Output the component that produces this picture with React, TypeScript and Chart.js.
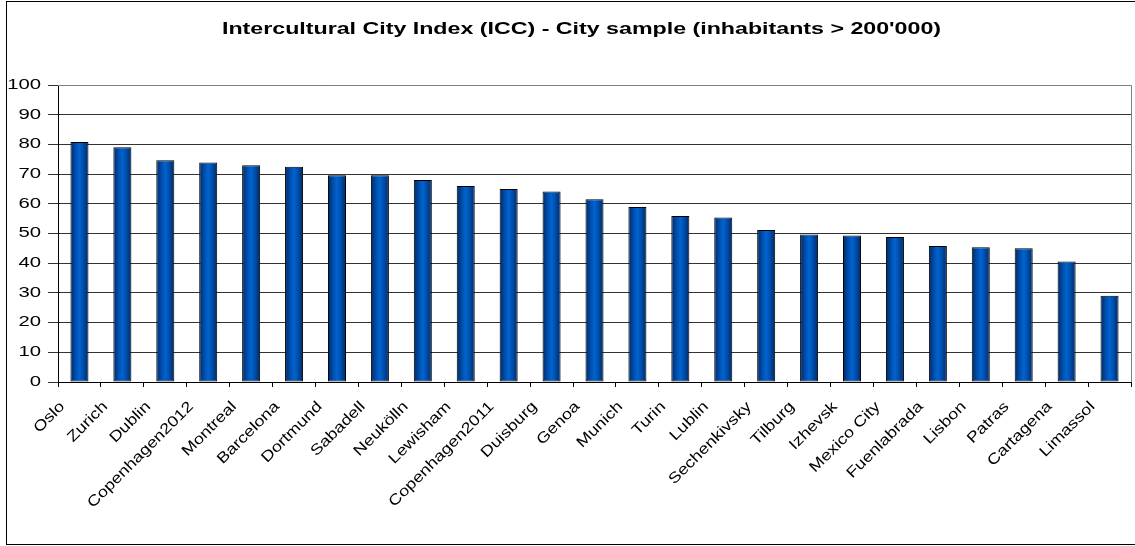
import React, { useEffect, useRef } from "react";
import { Chart, registerables } from "chart.js";

Chart.register(...registerables);

const CITIES = [
  "Oslo", "Zurich", "Dublin", "Copenhagen2012", "Montreal", "Barcelona", "Dortmund",
  "Sabadell", "Neukölln", "Lewisham", "Copenhagen2011", "Duisburg", "Genoa", "Munich",
  "Turin", "Lublin", "Sechenkivsky", "Tilburg", "Izhevsk", "Mexico City", "Fuenlabrada",
  "Lisbon", "Patras", "Cartagena", "Limassol",
];
const ICC_VALUES = [
  80.8, 79.0, 74.7, 73.9, 73.0, 72.5, 69.6, 69.6, 68.0, 66.0, 65.0, 64.1, 61.5, 58.9,
  55.9, 55.4, 51.2, 49.7, 49.3, 48.8, 45.8, 45.4, 45.0, 40.6, 29.0,
];
const Y_MIN = 0;
const Y_MAX = 100;
const Y_STEP = 10;
const TITLE = "Intercultural City Index (ICC) - City sample (inhabitants > 200'000)";

const FONT_FAMILY = "'Liberation Sans', Arial, sans-serif";
const STRETCH_FLAT = 1.45;
const STRETCH_ROTATED = 1.2;
const BAR_FRACTION = 0.42;

function stretchText(ctx: any) {
  if (ctx.__stretched) return;
  ctx.__stretched = true;
  const fill = ctx.fillText.bind(ctx);
  const measure = ctx.measureText.bind(ctx);
  const factor = () => {
    const t = ctx.getTransform();
    return Math.abs(t.b) > 1e-6 ? STRETCH_ROTATED : STRETCH_FLAT;
  };
  ctx.fillText = (text: string, x: number, y: number, maxWidth?: number) => {
    const k = factor();
    ctx.save();
    ctx.translate(x, y);
    ctx.scale(k, 1);
    if (maxWidth === undefined) fill(text, 0, 0);
    else fill(text, 0, 0, maxWidth / k);
    ctx.restore();
  };
  ctx.measureText = (text: string) => {
    const m = measure(text);
    const k = factor();
    return {
      width: m.width * k,
      actualBoundingBoxLeft: m.actualBoundingBoxLeft * k,
      actualBoundingBoxRight: m.actualBoundingBoxRight * k,
      actualBoundingBoxAscent: m.actualBoundingBoxAscent,
      actualBoundingBoxDescent: m.actualBoundingBoxDescent,
      fontBoundingBoxAscent: m.fontBoundingBoxAscent,
      fontBoundingBoxDescent: m.fontBoundingBoxDescent,
    };
  };
}

const framePlugin = {
  id: "frame",
  afterLayout(chart: any) {
    if (chart.titleBlock) {
      chart.titleBlock.left = 32;
    }
  },
  beforeDraw(chart: any) {
    const { ctx } = chart;
    ctx.save();
    ctx.fillStyle = "#ffffff";
    ctx.fillRect(0, 0, chart.width, chart.height);
    ctx.strokeStyle = "#000000";
    ctx.lineWidth = 1;
    ctx.strokeRect(6.5, 1.5, chart.width + 10, 543);
    ctx.restore();
  },
  afterDraw(chart: any) {
    const { ctx, chartArea } = chart;
    ctx.save();
    ctx.strokeStyle = "#808080";
    ctx.lineWidth = 1;
    ctx.beginPath();
    ctx.moveTo(chartArea.left, chartArea.top + 0.5);
    ctx.lineTo(chartArea.right + 0.5, chartArea.top + 0.5);
    ctx.lineTo(chartArea.right + 0.5, chartArea.bottom);
    ctx.stroke();
    ctx.restore();
  },
};

export default function App() {
  const canvasRef = useRef<HTMLCanvasElement | null>(null);

  useEffect(() => {
    document.body.style.margin = "0";
    const canvas = canvasRef.current!;
    const ctx = canvas.getContext("2d");
    stretchText(ctx);

    const chart = new Chart(canvas, {
      type: "bar",
      data: {
        labels: CITIES,
        datasets: [
          {
            data: ICC_VALUES,
            backgroundColor: (c: any) => {
              const ch = c.chart;
              const xs = ch.scales?.x;
              if (!ch.chartArea || !xs) return "#0055b5";
              const cx = xs.getPixelForValue(c.dataIndex);
              const half = ((xs.width / CITIES.length) * BAR_FRACTION) / 2;
              const g = ch.ctx.createLinearGradient(cx - half, 0, cx + half, 0);
              g.addColorStop(0, "#002a62");
              g.addColorStop(0.3, "#004fae");
              g.addColorStop(0.5, "#0064cf");
              g.addColorStop(0.7, "#004fae");
              g.addColorStop(1, "#002a62");
              return g;
            },
            borderColor: "#000000",
            borderWidth: 1,
            borderSkipped: false,
            barPercentage: BAR_FRACTION,
            categoryPercentage: 1,
          },
        ],
      },
      options: {
        animation: false,
        responsive: false,
        devicePixelRatio: 1,
        layout: { padding: { left: 0, right: 4, top: 0, bottom: 0 } },
        plugins: {
          legend: { display: false },
          tooltip: { enabled: false },
          title: {
            display: true,
            text: TITLE,
            color: "#000000",
            font: { family: FONT_FAMILY, size: 16, weight: "bold" },
            padding: { top: 20, bottom: 45.8 },
          },
        },
        scales: {
          x: {
            grid: {
              display: true,
              drawOnChartArea: false,
              drawTicks: true,
              tickLength: 5,
              color: "#000000",
            },
            border: { display: true, color: "#000000", width: 1 },
            ticks: {
              autoSkip: false,
              minRotation: 45,
              maxRotation: 45,
              labelOffset: -17,
              padding: 11,
              color: "#000000",
              font: { family: FONT_FAMILY, size: 15 },
            },
            afterFit: (scale: any) => {
              scale.height = 164;
              scale.paddingLeft = 0;
              scale.paddingRight = 0;
            },
          },
          y: {
            min: Y_MIN,
            max: Y_MAX,
            grid: {
              color: "#333333",
              lineWidth: 1,
              drawTicks: true,
              tickLength: 10,
            },
            border: { display: true, color: "#000000", width: 1 },
            ticks: {
              stepSize: Y_STEP,
              padding: 7,
              color: "#000000",
              font: { family: FONT_FAMILY, size: 14 },
            },
            afterFit: (scale: any) => {
              scale.width = 58;
            },
          },
        },
      },
      plugins: [framePlugin],
    });

    return () => chart.destroy();
  }, []);

  return (
    <div style={{ width: 1135, height: 546 }}>
      <canvas ref={canvasRef} width={1135} height={546} />
    </div>
  );
}
